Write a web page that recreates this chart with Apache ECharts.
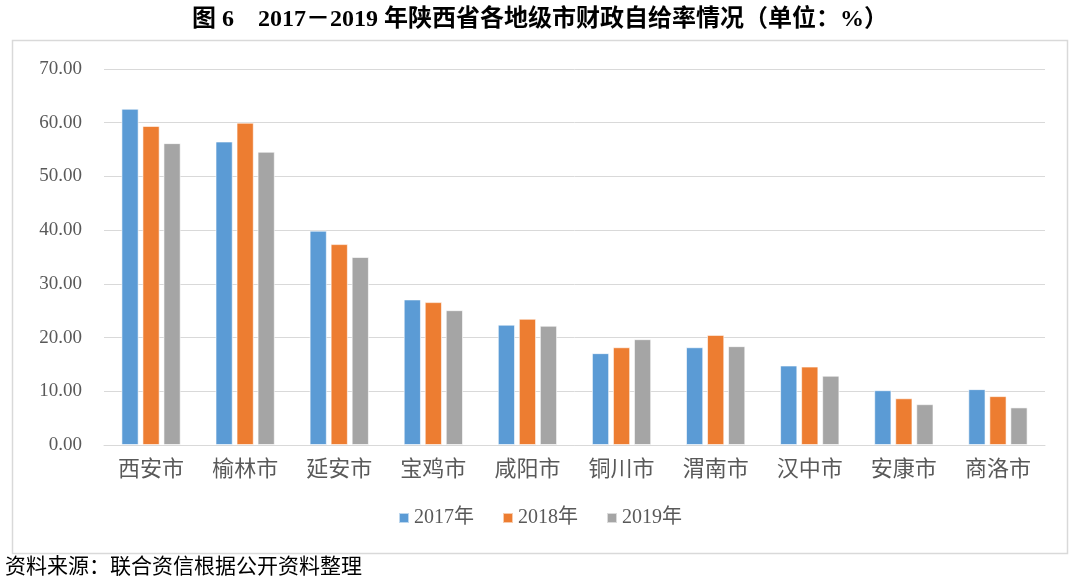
<!DOCTYPE html>
<html><head><meta charset="utf-8">
<script src="https://cdn.jsdelivr.net/npm/echarts@6/dist/echarts.min.js"></script>
<style>html,body{margin:0;padding:0;background:#fff}#c{width:1080px;height:583px}</style>
</head><body><div id="c"></div>
<script>
var categories = ['西安市','榆林市','延安市','宝鸡市','咸阳市','铜川市','渭南市','汉中市','安康市','商洛市'];
var seriesNames = ['2017年','2018年','2019年'];
var v2017 = [62.6, 56.5, 39.9, 27.1, 22.4, 17.1, 18.2, 14.8, 10.2, 10.4];
var v2018 = [59.4, 60.0, 37.4, 26.6, 23.5, 18.2, 20.5, 14.6, 8.7, 9.1];
var v2019 = [56.2, 54.6, 35.0, 25.1, 22.2, 19.7, 18.4, 12.9, 7.6, 7.0];
var colors = ['#5B9BD5','#ED7D31','#A5A5A5'];
var serif = '"Liberation Serif","Times New Roman","Noto Sans CJK SC",serif';

var chart = echarts.init(document.getElementById('c'), null, {renderer:'canvas'});
var data = [v2017, v2018, v2019];
chart.setOption({
  animation: false,
  color: colors,
  title: {
    text: '图 6　2017－2019 年陕西省各地级市财政自给率情况（单位：%）',
    left: 'center', top: 3,
    textStyle: {fontFamily: serif, fontSize: 24, fontWeight: 'bold', color: '#000'}
  },
  graphic: [
    {type:'rect', shape:{x:12.5, y:40.5, width:1055, height:513}, style:{fill:'none', stroke:'#d9d9d9', lineWidth:1.5}, z:-1},
    {type:'text', left: 5, top: 557, style:{text:'资料来源：联合资信根据公开资料整理', fontFamily: serif, fontSize: 21, fill:'#000'}}
  ],
  legend: {
    data: seriesNames, bottom: 50, left: 'center',
    itemWidth: 10, itemHeight: 10, itemGap: 28,
    icon: 'rect',
    textStyle: {fontFamily: serif, fontSize: 20, color: '#595959'}
  },
  grid: {left: 104, right: 35, top: 69, bottom: 138, containLabel: false},
  xAxis: {
    type: 'category', data: categories,
    axisLine: {show: true, lineStyle: {color: '#d9d9d9'}},
    axisTick: {show: false},
    axisLabel: {fontFamily: serif, fontSize: 22, color: '#595959', margin: 14}
  },
  yAxis: {
    type: 'value', min: 0, max: 70, interval: 10,
    axisLine: {show: false}, axisTick: {show: false},
    splitLine: {lineStyle: {color: '#d9d9d9'}},
    axisLabel: {fontFamily: serif, fontSize: 19, color: '#595959', margin: 22,
      formatter: function(v){return v.toFixed(2);}}
  },
  series: seriesNames.map(function(n,i){
    return {name:n, type:'bar', data:data[i], barGap:'22%', barCategoryGap:'37%',
      itemStyle:{color:colors[i], borderColor:'rgba(255,255,255,0.6)', borderWidth:1}};
  })
});
</script></body></html>
